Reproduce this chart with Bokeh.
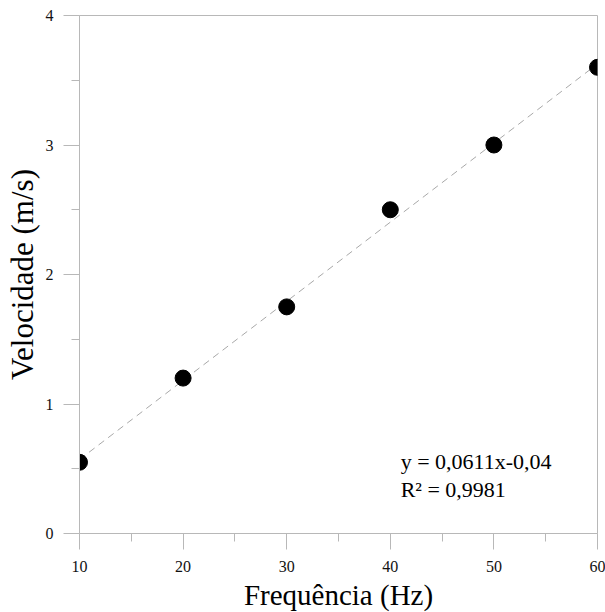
from bokeh.plotting import figure
from bokeh.models import Range1d, FixedTicker, Label, ColumnDataSource
from bokeh.embed import file_html
from bokeh.resources import INLINE

freq = [10, 20, 30, 40, 50, 60]
vel = [0.55, 1.2, 1.75, 2.5, 3.0, 3.6]
slope = 0.0611
intercept = -0.04
x_ticks = [10, 20, 30, 40, 50, 60]
x_minor = [15, 25, 35, 45, 55]
y_ticks = [0, 1, 2, 3, 4]
y_minor = [0.5, 1.5, 2.5, 3.5]
eq_text = "y = 0,0611x-0,04\nR² = 0,9981"

FONT = "Liberation Serif"
AX = "#b8b8b8"

p = figure(width=605, height=611, output_backend="svg", toolbar_location=None,
           x_range=Range1d(10, 60), y_range=Range1d(0, 4),
           min_border_left=79, min_border_right=8, min_border_top=15, min_border_bottom=78)
p.frame_width = 518
p.frame_height = 518
p.xgrid.visible = False
p.ygrid.visible = False
p.outline_line_color = AX
p.background_fill_color = "white"
p.border_fill_color = "white"

fit_x = [freq[0], freq[-1]]
fit_y = [slope * v + intercept for v in fit_x]
p.line(fit_x, fit_y, line_color="#a8a8a8", line_width=1, line_dash="7 5")

src = ColumnDataSource(dict(x=freq, y=vel))
p.scatter("x", "y", source=src, size=16, fill_color="black", line_color="black")

for ax in (p.xaxis[0], p.yaxis[0]):
    ax.axis_line_color = AX
    ax.major_tick_line_color = AX
    ax.minor_tick_line_color = AX
    ax.major_tick_in = 0
    ax.minor_tick_in = 0
    ax.major_tick_out = 16
    ax.minor_tick_out = 8
    ax.major_label_text_font = FONT
    ax.major_label_text_font_size = "16px"
    ax.major_label_text_color = "#111111"
    ax.axis_label_text_font = FONT
    ax.axis_label_text_font_style = "normal"
    ax.axis_label_text_color = "#000000"

p.xaxis[0].ticker = FixedTicker(ticks=x_ticks, minor_ticks=x_minor)
p.yaxis[0].ticker = FixedTicker(ticks=y_ticks, minor_ticks=y_minor)
p.xaxis[0].major_label_standoff = 11
p.yaxis[0].major_label_standoff = 10
p.xaxis[0].axis_label = "Frequência (Hz)"
p.yaxis[0].axis_label = "Velocidade (m/s)"
p.xaxis[0].axis_label_text_font_size = "29px"
p.yaxis[0].axis_label_text_font_size = "31px"
p.xaxis[0].axis_label_standoff = 4
p.yaxis[0].axis_label_standoff = 3

lab = Label(x=41.0, y=0.45, text=eq_text, text_font=FONT, text_font_size="22px",
            text_color="#000000", text_baseline="middle", text_line_height=1.12)
p.add_layout(lab)

open("out.html", "w").write(file_html(p, INLINE))
